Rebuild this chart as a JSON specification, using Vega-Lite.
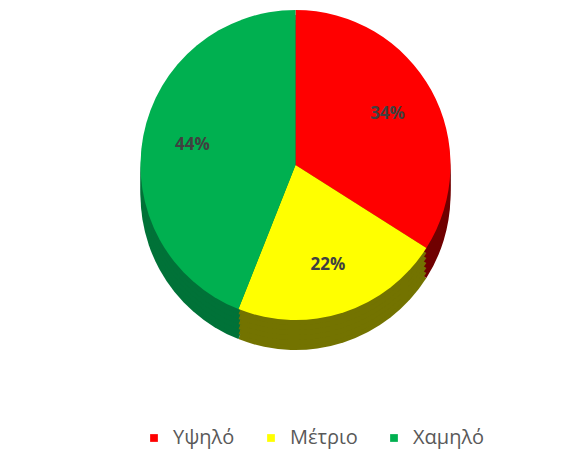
{
  "$schema": "https://vega.github.io/schema/vega-lite/v6.json",
  "width": 559,
  "height": 330,
  "autosize": {"type": "none"},
  "padding": {"left": 16, "right": 0, "top": 0, "bottom": 127},
  "background": "white",
  "data": {
    "values": [
      {"cat": "Υψηλό", "value": 34, "order": 1, "label": "34%"},
      {"cat": "Μέτριο", "value": 22, "order": 2, "label": "22%"},
      {"cat": "Χαμηλό", "value": 44, "order": 3, "label": "44%"}
    ]
  },
  "encoding": {
    "theta": {"field": "value", "type": "quantitative", "stack": true},
    "order": {"field": "order", "type": "quantitative"}
  },
  "layer": [
    {"mark": {"type": "arc", "radius": 155, "yOffset": 30},
     "encoding": {"color": {"field": "cat", "type": "nominal", "legend": null,
       "scale": {"domain": ["Υψηλό", "Μέτριο", "Χαμηλό"], "range": ["#700000", "#737300", "#007238"]}}}},
    {"mark": {"type": "arc", "radius": 155, "yOffset": 25},
     "encoding": {"color": {"field": "cat", "type": "nominal", "legend": null,
       "scale": {"domain": ["Υψηλό", "Μέτριο", "Χαμηλό"], "range": ["#700000", "#737300", "#007238"]}}}},
    {"mark": {"type": "arc", "radius": 155, "yOffset": 20},
     "encoding": {"color": {"field": "cat", "type": "nominal", "legend": null,
       "scale": {"domain": ["Υψηλό", "Μέτριο", "Χαμηλό"], "range": ["#700000", "#737300", "#007238"]}}}},
    {"mark": {"type": "arc", "radius": 155, "yOffset": 15},
     "encoding": {"color": {"field": "cat", "type": "nominal", "legend": null,
       "scale": {"domain": ["Υψηλό", "Μέτριο", "Χαμηλό"], "range": ["#700000", "#737300", "#007238"]}}}},
    {"mark": {"type": "arc", "radius": 155, "yOffset": 10},
     "encoding": {"color": {"field": "cat", "type": "nominal", "legend": null,
       "scale": {"domain": ["Υψηλό", "Μέτριο", "Χαμηλό"], "range": ["#700000", "#737300", "#007238"]}}}},
    {"mark": {"type": "arc", "radius": 155, "yOffset": 5},
     "encoding": {"color": {"field": "cat", "type": "nominal", "legend": null,
       "scale": {"domain": ["Υψηλό", "Μέτριο", "Χαμηλό"], "range": ["#700000", "#737300", "#007238"]}}}},
    {
      "mark": {"type": "arc", "radius": 155},
      "encoding": {
        "color": {"field": "cat", "type": "nominal",
          "scale": {"domain": ["Υψηλό", "Μέτριο", "Χαμηλό"], "range": ["#FF0000", "#FFFF00", "#00B050"]},
          "legend": {
            "title": null, "orient": "none", "legendX": 128, "legendY": 428, "direction": "horizontal",
            "symbolType": "square", "symbolSize": 60, "symbolStrokeWidth": 0,
            "labelFont": "Open Sans", "labelFontSize": 20, "labelColor": "#595959",
            "columnPadding": 26, "labelOffset": 9
          }
        }
      }
    },
    {
      "mark": {"type": "text", "radius": 105, "font": "Open Sans", "fontSize": 17, "fontWeight": "bold", "fill": "#404040"},
      "encoding": {"text": {"field": "label", "type": "nominal"}}
    }
  ],
  "resolve": {"scale": {"color": "independent"}},
  "config": {"view": {"stroke": null}}
}
